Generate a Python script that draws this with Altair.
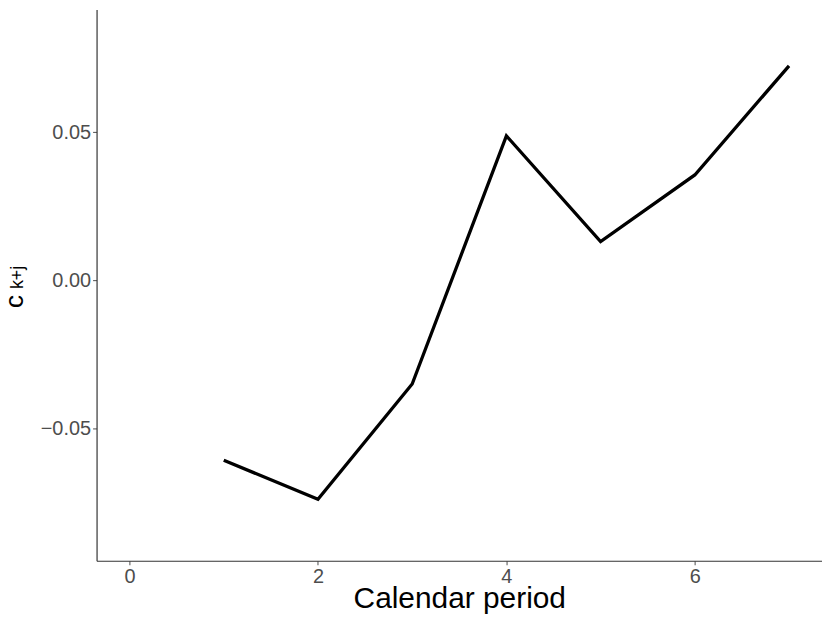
import altair as alt
import pandas as pd

period = [1, 2, 3, 4, 5, 6, 7]
c_kj = [-0.0606, -0.0738, -0.0349, 0.0488, 0.0131, 0.0356, 0.0724]

x_ticks = [0, 2, 4, 6]
y_ticks = [-0.05, 0.0, 0.05]

df = pd.DataFrame({"period": period, "c": c_kj})

FONT = "Liberation Sans"

line = alt.Chart(df).mark_line(color="black", strokeWidth=3.3, clip=True).encode(
    x=alt.X(
        "period:Q",
        scale=alt.Scale(domain=[-0.35, 7.35], nice=False, zero=False),
        axis=alt.Axis(
            values=x_ticks,
            title="Calendar period",
            format="d",
            grid=False,
            domainColor="#333333",
            domainWidth=1.2,
            tickColor="#4d4d4d",
            tickSize=4,
            labelPadding=2,
            labelFont=FONT,
            labelFontSize=20,
            labelColor="#4d4d4d",
            titleFont=FONT,
            titleFontSize=30,
            titleFontWeight="normal",
            titleColor="black",
            titlePadding=-3,
        ),
    ),
    y=alt.Y(
        "c:Q",
        scale=alt.Scale(domain=[-0.0945, 0.0914], nice=False, zero=False),
        axis=alt.Axis(
            values=y_ticks,
            format=".2f",
            title=None,
            grid=False,
            domainColor="#333333",
            domainWidth=1.2,
            tickColor="#4d4d4d",
            tickSize=4,
            labelPadding=2,
            labelFont=FONT,
            labelFontSize=20,
            labelColor="#4d4d4d",
        ),
    ),
)

title_c = alt.Chart(pd.DataFrame({"t": ["c"]})).mark_text(
    font=FONT, fontSize=26, align="left", baseline="alphabetic", color="black"
).encode(text="t:N", x=alt.value(-74), y=alt.value(300), angle=alt.value(270))

title_sub = alt.Chart(pd.DataFrame({"t": ["k+j"]})).mark_text(
    font=FONT, fontSize=18, align="left", baseline="alphabetic", color="black"
).encode(text="t:N", x=alt.value(-73.5), y=alt.value(281), angle=alt.value(270))

chart = (
    alt.layer(line, title_c, title_sub)
    .properties(
        width=729,
        height=554,
        background="white",
        autosize=alt.AutoSizeParams(type="none"),
        padding={"left": 89, "top": 0, "right": 0, "bottom": 53},
    )
    .configure_view(stroke="transparent", strokeWidth=0)
)

chart.save("out.html", embed_options={"renderer": "svg", "actions": False})
